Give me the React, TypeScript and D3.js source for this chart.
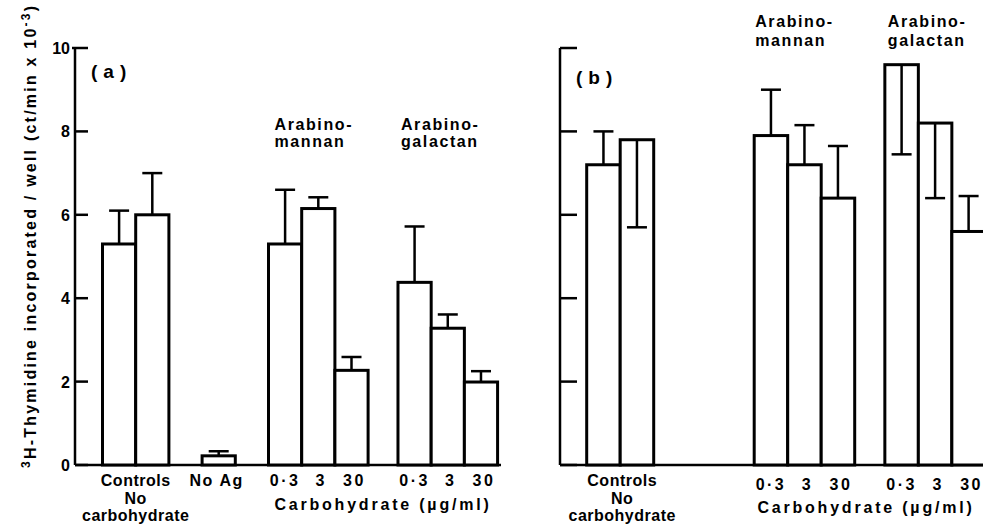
import React from "react";
import * as d3 from "d3";

// values (ct/min x 10^-3)
const yTicks = [0, 2, 4, 6, 8, 10];
const yTickLabels = ["0", "2", "4", "6", "8", "10"];

// panel (a)
const slotsA = [0, 1, 3, 5, 6, 7, 8.9, 9.9, 10.9];
const meansA = [5.3, 6.0, 0.22, 5.3, 6.15, 2.27, 4.38, 3.28, 1.99];
const errorEndsA = [6.1, 7.0, 0.33, 6.6, 6.42, 2.59, 5.72, 3.61, 2.25];
const doseLabelsA = ["", "", "", "0·3", "3", "30", "0·3", "3", "30"];

// panel (b)
const slotsB = [0, 1, 5, 6, 7, 8.9, 9.9, 10.9];
const meansB = [7.2, 7.8, 7.9, 7.2, 6.4, 9.6, 8.2, 5.6];
const errorEndsB = [8.0, 5.7, 9.0, 8.15, 7.65, 7.45, 6.4, 6.45];
const doseLabelsB = ["", "", "0·3", "3", "30", "0·3", "3", "30"];

const controlsLabel = ["Controls", "No", "carbohydrate"];
const mannanLabel = ["Arabino-", "mannan"];
const galactanLabel = ["Arabino-", "galactan"];
const noAgLabel = "No Ag";
const xTitle = "Carbohydrate (µg/ml)";

const font = "'Liberation Sans', Arial, sans-serif";

const y = d3.scaleLinear().domain([0, 10]).range([465, 48]);
const xA = d3.scaleLinear().domain([0, 1]).range([102.5, 135.7]);
const xB = d3.scaleLinear().domain([0, 1]).range([586.7, 620.2]);

function Bars({ x, slots, means, ends, doses, doseY }) {
	const w = x(1) - x(0);
	return (
		<g>
			{slots.map((s, i) => (
				<rect
					key={"b" + i}
					x={x(s)}
					y={y(means[i])}
					width={w}
					height={y(0) - y(means[i])}
					fill="#fff"
					stroke="#000"
					strokeWidth={3}
				/>
			))}
			{slots.map((s, i) => {
				const cx = x(s + 0.5);
				return (
					<g key={"e" + i} stroke="#000" strokeWidth={2.5}>
						<line x1={cx} x2={cx} y1={y(means[i])} y2={y(ends[i])} />
						<line x1={cx - 10} x2={cx + 10} y1={y(ends[i])} y2={y(ends[i])} />
					</g>
				);
			})}
			{slots.map((s, i) =>
				doses[i] ? (
					<text
						key={"d" + i}
						x={x(s + 0.5) + (doses[i] === "0·3" ? 0 : 3)}
						y={doseY}
						textAnchor="middle"
						fontSize={16}
						letterSpacing={2.5}
					>
						{doses[i]}
					</text>
				) : null
			)}
		</g>
	);
}

function Lines({ x, y0, lines, gap, anchor = "start", spacing = 1.6 }) {
	return (
		<text x={x} y={y0} fontSize={16} textAnchor={anchor} letterSpacing={spacing}>
			{lines.map((l, i) => (
				<tspan key={i} x={x} dy={i === 0 ? 0 : gap}>
					{l}
				</tspan>
			))}
		</text>
	);
}

export default function App() {
	return (
		<svg
			width={983}
			height={525}
			style={{ position: "absolute", left: 0, top: 0, background: "#fff" }}
			fontFamily={font}
			fontWeight="bold"
		>
			{/* y label */}
			<text
				transform="translate(36,237) rotate(-90)"
				textAnchor="middle"
				fontSize={16}
				textLength={462}
				lengthAdjust="spacing"
			>
				<tspan fontSize={12} dy={-6}>3</tspan>
				<tspan dy={6}>H-Thymidine incorporated / well (ct/min x 10</tspan>
				<tspan fontSize={12} dy={-6}>-3</tspan>
				<tspan dy={6}>)</tspan>
			</text>

			{/* panel (a) axis */}
			<g stroke="#000" strokeWidth={2.5}>
				<line x1={75} x2={75} y1={y(0)} y2={y(10)} />
				<line x1={75} x2={501} y1={y(0)} y2={y(0)} />
				{yTicks.map((t) => (
					<line key={t} x1={t === 10 ? 72 : 75} x2={88} y1={y(t)} y2={y(t)} />
				))}
			</g>
			{yTicks.map((t, i) => (
				<text key={t} x={70} y={y(t) + 6} textAnchor="end" fontSize={16}>
					{yTickLabels[i]}
				</text>
			))}
			<text x={91} y={78} fontSize={19} letterSpacing={6}>(a)</text>

			<Bars x={xA} slots={slotsA} means={meansA} ends={errorEndsA} doses={doseLabelsA} doseY={486} />

			<Lines x={xA(5) + 6} y0={130} lines={mannanLabel} gap={17} />
			<Lines x={xA(8.9) + 3} y0={130} lines={galactanLabel} gap={17} />

			<Lines x={xA(1)} y0={486} lines={controlsLabel} gap={17.5} anchor="middle" spacing={0.5} />
			<text x={xA(3.5) - 2} y={486} textAnchor="middle" fontSize={16} letterSpacing={1.6}>
				{noAgLabel}
			</text>
			<text x={383} y={510} textAnchor="middle" fontSize={16} letterSpacing={2.8}>
				{xTitle}
			</text>

			{/* panel (b) axis */}
			<g stroke="#000" strokeWidth={2.5}>
				<line x1={560} x2={560} y1={y(0)} y2={y(10)} />
				<line x1={560} x2={983} y1={y(0)} y2={y(0)} />
				{yTicks.map((t) => (
					<line key={t} x1={560} x2={577} y1={y(t)} y2={y(t)} />
				))}
			</g>
			<text x={576} y={84} fontSize={19} letterSpacing={6}>(b)</text>

			<Bars x={xB} slots={slotsB} means={meansB} ends={errorEndsB} doses={doseLabelsB} doseY={490} />

			<Lines x={xB(5) + 1} y0={27} lines={mannanLabel} gap={19} />
			<Lines x={xB(8.9) + 3} y0={27} lines={galactanLabel} gap={19} />

			<Lines x={xB(1) + 2} y0={486} lines={controlsLabel} gap={17.5} anchor="middle" spacing={0.5} />
			<text x={866} y={513} textAnchor="middle" fontSize={16} letterSpacing={2.8}>
				{xTitle}
			</text>
		</svg>
	);
}
